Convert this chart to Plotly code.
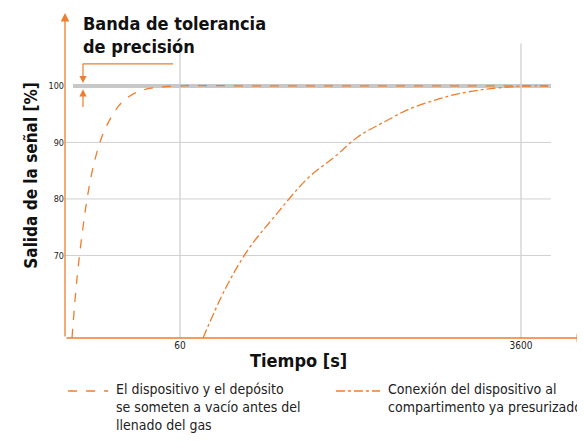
import plotly.graph_objects as go

ORANGE = "#ef7d2d"
FONT = "DejaVu Sans Condensed, Liberation Sans Narrow, sans-serif"

# x is a display scale (time axis is not linear); ticks labelled 60 and 3600
x_tickvals = [115, 456]
x_ticktext = ["60", "3600"]
y_tickvals = [70, 80, 90, 100]

# curve 1: device and tank evacuated before gas filling
x1 = [7, 12, 18, 23, 30, 38, 48, 58, 73, 90, 115, 200, 300, 400, 483]
y1 = [55.4, 66, 75, 81, 87, 91.5, 95, 97.3, 99, 99.7, 100, 100, 100, 100, 100]
# curve 2: connection to pressurized compartment
x2 = [138, 160, 183, 210, 243, 270, 293, 320, 343, 370, 393, 420, 443, 460, 483]
y2 = [55.4, 64, 71, 77, 83.7, 87.5, 91, 93.7, 95.8, 97.5, 98.6, 99.4, 99.8, 100, 100]

fig = go.Figure()
fig.add_trace(go.Scatter(x=x1, y=y1, mode="lines", line=dict(color=ORANGE, width=1.3, dash="dash"), line_shape="spline"))
fig.add_trace(go.Scatter(x=x2, y=y2, mode="lines", line=dict(color=ORANGE, width=1.3, dash="dashdot"), line_shape="spline"))

shapes = []
# tolerance band
shapes.append(dict(type="line", x0=8, x1=486, y0=100, y1=100, line=dict(color="#c8c8c8", width=4), layer="below"))
for v in y_tickvals[:-1]:
    shapes.append(dict(type="line", x0=0, x1=486, y0=v, y1=v, line=dict(color="#d0d0d0", width=1), layer="below"))
for v in x_tickvals:
    shapes.append(dict(type="line", x0=v, x1=v, y0=55.4, y1=107.5, line=dict(color="#d0d0d0", width=1.3), layer="below"))
# leader line for band label
shapes.append(dict(type="line", x0=18, x1=108, y0=103.9, y1=103.9, line=dict(color=ORANGE, width=1.2)))
shapes.append(dict(type="line", x0=18, x1=18, y0=103.9, y1=101.5, line=dict(color=ORANGE, width=1.2)))
# legend samples
shapes.append(dict(type="line", xref="paper", yref="paper", x0=0.006, x1=0.083, y0=-0.163, y1=-0.163, line=dict(color=ORANGE, width=1.3, dash="dash")))
shapes.append(dict(type="line", xref="paper", yref="paper", x0=0.521, x1=0.606, y0=-0.163, y1=-0.163, line=dict(color=ORANGE, width=1.3, dash="dashdot")))

ann = []
# axis arrows
ann.append(dict(x=0, y=112.9, ax=0, ay=55.4, xref="x", yref="y", axref="x", ayref="y", showarrow=True, arrowhead=2, arrowsize=1.3, arrowwidth=1.3, arrowcolor=ORANGE, text=""))
ann.append(dict(x=520, y=55.4, ax=0, ay=55.4, xref="x", yref="y", axref="x", ayref="y", showarrow=True, arrowhead=2, arrowsize=1.3, arrowwidth=1.3, arrowcolor=ORANGE, text=""))
# band arrows
ann.append(dict(x=18, y=100.5, ax=18, ay=101.6, xref="x", yref="y", axref="x", ayref="y", showarrow=True, arrowhead=2, arrowsize=1.2, arrowwidth=1.2, arrowcolor=ORANGE, text=""))
ann.append(dict(x=18, y=99.4, ax=18, ay=96, xref="x", yref="y", axref="x", ayref="y", showarrow=True, arrowhead=2, arrowsize=1.2, arrowwidth=1.2, arrowcolor=ORANGE, text=""))
ann.append(dict(x=0.03, y=1.005, xref="paper", yref="paper", xanchor="left", yanchor="top", showarrow=False, align="left",
                text="<b>Banda de tolerancia<br>de precisión</b>", font=dict(family=FONT, size=18, color="#111")))
ann.append(dict(x=233, y=-0.03, xref="x", yref="paper", yanchor="top", showarrow=False,
                text="<b>Tiempo [s]</b>", font=dict(family=FONT, size=18, color="#111")))
ann.append(dict(x=-0.09, y=0.5, xref="paper", yref="paper", textangle=-90, showarrow=False,
                text="<b>Salida de la señal [%]</b>", font=dict(family=FONT, size=17, color="#111")))
ann.append(dict(x=0.095, y=-0.125, xref="paper", yref="paper", xanchor="left", yanchor="top", showarrow=False, align="left",
                text="El dispositivo y el depósito<br>se someten a vacío antes del<br>llenado del gas", font=dict(family=FONT, size=14, color="#222")))
ann.append(dict(x=0.618, y=-0.125, xref="paper", yref="paper", xanchor="left", yanchor="top", showarrow=False, align="left",
                text="Conexión del dispositivo al<br>compartimento ya presurizado", font=dict(family=FONT, size=14, color="#222")))

fig.update_layout(
    width=585, height=443, showlegend=False,
    margin=dict(l=57, r=8, t=5, b=113, autoexpand=False),
    plot_bgcolor="white", paper_bgcolor="white",
    shapes=shapes, annotations=ann,
    xaxis=dict(range=[0, 520], tickvals=x_tickvals, ticktext=x_ticktext, showgrid=False, zeroline=False,
               ticks="", automargin=False, tickfont=dict(family=FONT, size=10, color="#222")),
    yaxis=dict(range=[55.4, 112.9], tickvals=y_tickvals, showgrid=False, zeroline=False, ticks="",
               automargin=False, tickfont=dict(family=FONT, size=9, color="#222")),
)

fig.write_html("out.html")
